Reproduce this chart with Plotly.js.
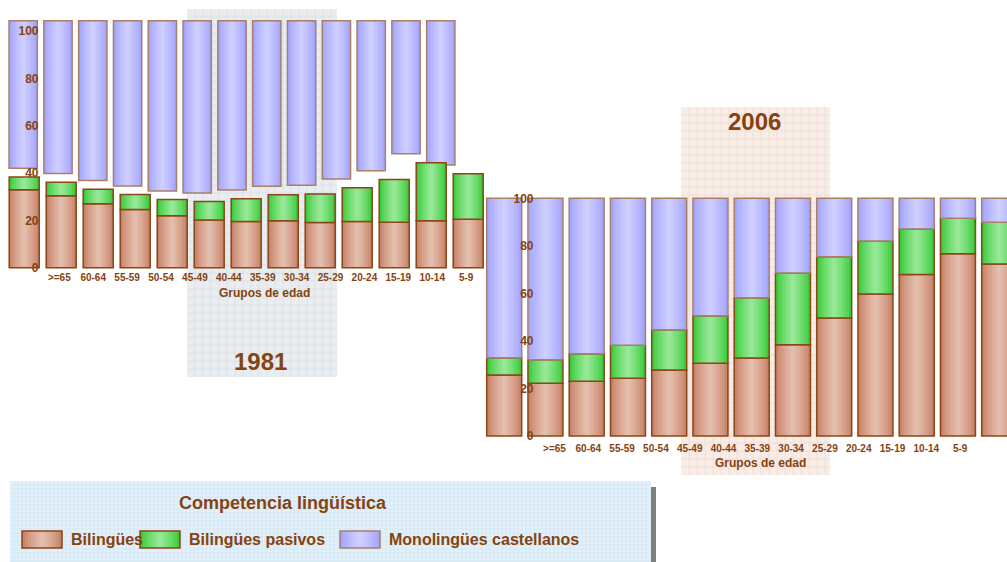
<!DOCTYPE html>
<html>
<head>
<meta charset="utf-8">
<script src="https://cdn.plot.ly/plotly-3.0.1.min.js"></script>
<style>html,body{margin:0;padding:0;background:#fff;}#chart{width:1007px;height:562px;}</style>
</head>
<body>
<div id="chart"></div>
<script>
// ---------- DATA ----------
const ageGroups = ['>=65','60-64','55-59','50-54','45-49','40-44','35-39','30-34','25-29','20-24','15-19','10-14','5-9'];
const yTicks = [0, 20, 40, 60, 80, 100];

const bilingues1981 = [33.0, 30.4, 27.0, 24.6, 22.0, 20.2, 19.5, 19.8, 19.1, 19.5, 19.2, 19.8, 20.5];
const pasivos1981   = [5.3, 5.7, 6.2, 6.3, 6.8, 7.8, 9.7, 11.0, 12.1, 14.3, 18.1, 24.6, 19.2];
const monolingues1981 = [61.7, 63.9, 66.8, 69.1, 71.2, 72.0, 70.8, 69.2, 68.8, 66.2, 62.7, 55.6, 60.3];

const bilingues2006 = [25.7, 22.2, 23.0, 24.3, 27.8, 30.6, 32.8, 38.4, 49.6, 59.7, 67.9, 76.7, 72.4];
const pasivos2006   = [7.2, 9.9, 11.6, 13.9, 16.9, 20.0, 25.4, 30.2, 25.8, 22.3, 19.2, 14.9, 17.5];
const monolingues2006 = [67.1, 67.9, 65.4, 61.8, 55.3, 49.4, 41.8, 31.4, 24.6, 18.0, 12.9, 8.4, 10.1];

const seriesNames = ['Bilingües', 'Bilingües pasivos', 'Monolingües castellanos'];
const legendTitle = 'Competencia lingüística';
const axisTitle = 'Grupos de edad';
const years = ['1981', '2006'];

// ---------- STYLE ----------
const W = 1007, H = 562;
const BROWN = '#86430f';
const FONT = 'Liberation Sans, Arial, sans-serif';
const palettes = {
  bil: {line: '#8a4614', edge: [200, 130, 104], center: [227, 190, 172]},
  pas: {line: '#8a4614', edge: [58, 203, 58], center: [150, 232, 150]},
  mon: {line: '#a88068', edge: [164, 164, 255], center: [206, 206, 255]}
};
const NL = 7;
const layerFrac = Array.from({length: NL}, (_, i) => 1 - i * (0.88 / (NL - 1)));
function shade(pal, li) {
  const t = Math.pow(li / (NL - 1), 0.8);
  const c = pal.edge.map((e, k) => Math.round(e + (pal.center[k] - e) * t));
  return 'rgb(' + c.join(',') + ')';
}

function xr(c0, s) { return [(0 - c0) / s, (W - c0) / s]; }
function yr(py0, k) { return [(py0 - H) / k, py0 / k]; }
function px(x) { return x / W; }
function py(y) { return 1 - y / H; }

const idx = ageGroups.map((_, i) => i);
const traces = [];
function addSeries(xa, ya, base, vals, width, pal) {
  layerFrac.forEach((f, li) => {
    traces.push({
      type: 'bar', x: idx, y: vals, base: base, width: width * f,
      xaxis: xa, yaxis: ya, showlegend: false, hoverinfo: 'skip',
      marker: {color: shade(pal, li), line: {width: 0}}
    });
  });
  traces.push({
    type: 'bar', x: idx, y: vals, base: base, width: width,
    xaxis: xa, yaxis: ya, showlegend: false, hoverinfo: 'skip',
    marker: {color: 'rgba(0,0,0,0)', line: {color: pal.line, width: 1.5}}
  });
}

const zeros = idx.map(() => 0);
// 1981 monolingual layer (floating, drawn first so axis labels of 1981 sit above it)
const base1981m = idx.map(i => bilingues1981[i] + pasivos1981[i]);
addSeries('x', 'y', base1981m, monolingues1981, 28.3 / 34.8, palettes.mon);
// 1981 bilingual layers
addSeries('x2', 'y2', zeros, bilingues1981, 30 / 37, palettes.bil);
addSeries('x2', 'y2', bilingues1981, pasivos1981, 30 / 37, palettes.pas);
// 2006
addSeries('x3', 'y3', zeros, bilingues2006, 35 / 41.25, palettes.bil);
addSeries('x3', 'y3', bilingues2006, pasivos2006, 35 / 41.25, palettes.pas);
const base2006m = idx.map(i => bilingues2006[i] + pasivos2006[i]);
addSeries('x3', 'y3', base2006m, monolingues2006, 35 / 41.25, palettes.mon);

// ---------- SHAPES ----------
const shapes = [];
function rect(x0, y0, x1, y1, fill, line, layer) {
  shapes.push({type: 'rect', xref: 'paper', yref: 'paper', layer: layer || 'below',
    x0: px(x0), x1: px(x1), y0: py(y1), y1: py(y0),
    fillcolor: fill, line: line || {width: 0}});
}
function grid(x0, y0, x1, y1, fill, lineCol, step) {
  rect(x0, y0, x1, y1, fill);
  for (let x = x0 + step; x < x1; x += step) {
    shapes.push({type: 'line', xref: 'paper', yref: 'paper', layer: 'below',
      x0: px(x), x1: px(x), y0: py(y1), y1: py(y0), line: {color: lineCol, width: 1}});
  }
  for (let y = y0 + step; y < y1; y += step) {
    shapes.push({type: 'line', xref: 'paper', yref: 'paper', layer: 'below',
      x0: px(x0), x1: px(x1), y0: py(y), y1: py(y), line: {color: lineCol, width: 1}});
  }
}
grid(187, 9, 337, 377, '#e9edf0', '#dbe2e7', 8);
grid(681, 107, 830, 475, '#f8ece7', '#f0ded6', 8);
// legend box
rect(651, 487, 656, 562, '#7f7f7f');
grid(10, 481, 651, 562, '#e2f1fb', '#d6e8f3', 4);
function swatch(x0, pal) {
  const y0 = 531, y1 = 548, w = 40;
  layerFrac.forEach((f, li) => {
    const c = x0 + w / 2, hw = w * f / 2;
    rect(c - hw, y0, c + hw, y1, shade(pal, li), null, 'above');
  });
  shapes.push({type: 'rect', xref: 'paper', yref: 'paper', layer: 'above',
    x0: px(x0), x1: px(x0 + w), y0: py(y1), y1: py(y0),
    fillcolor: 'rgba(0,0,0,0)', line: {color: pal.line, width: 1.5}});
}
swatch(22, palettes.bil);
swatch(140, palettes.pas);
swatch(340, palettes.mon);

// ---------- ANNOTATIONS ----------
const annotations = [];
function txt(t, x, y, size, anchor) {
  annotations.push({text: t, xref: 'paper', yref: 'paper', x: px(x), y: py(y),
    xanchor: anchor || 'center', yanchor: 'middle', showarrow: false,
    font: {family: FONT, size: size, color: BROWN, weight: 'bold'}});
}
txt(axisTitle, 264.7, 293.3, 12);
txt(axisTitle, 760, 463.3, 12);
txt(years[0], 260, 361.7, 24);
txt(years[1], 754, 121.7, 24);
txt(legendTitle, 283, 503, 18);
txt(seriesNames[0], 69, 539, 16, 'left');
txt(seriesNames[1], 187, 539, 16, 'left');
txt(seriesNames[2], 387, 539, 16, 'left');

// ---------- AXES ----------
const tickFont = {family: FONT, size: 10, color: BROWN, weight: 'bold'};
const yTickFont = {family: FONT, size: 12, color: BROWN, weight: 'bold'};
const common = {showgrid: false, zeroline: false, showline: false, ticks: '', fixedrange: true};

const layout = {
  width: W, height: H,
  margin: {l: 0, r: 0, t: 0, b: 0},
  paper_bgcolor: '#ffffff', plot_bgcolor: 'rgba(0,0,0,0)',
  barmode: 'overlay', showlegend: false,
  xaxis: Object.assign({}, common, {domain: [0, 1], range: xr(23.2, 34.8), visible: false, anchor: 'y'}),
  yaxis: Object.assign({}, common, {domain: [0, 1], range: yr(259.9, 2.392), visible: false, anchor: 'x'}),
  xaxis2: Object.assign({}, common, {domain: [0, 1], range: xr(24.2, 37), anchor: 'free', position: py(270),
    tickmode: 'array', tickvals: idx.map(i => (59.3 + 33.9 * i - 24.2) / 37), ticktext: ageGroups,
    tickfont: tickFont, tickangle: 0}),
  yaxis2: Object.assign({}, common, {domain: [0, 1], range: yr(267.7, 2.365), anchor: 'free', position: px(38.5),
    tickmode: 'array', tickvals: yTicks, tickfont: yTickFont}),
  xaxis3: Object.assign({}, common, {domain: [0, 1], range: xr(504.2, 41.25), anchor: 'free', position: py(441),
    tickmode: 'array', tickvals: idx.map(i => (554.5 + 33.8 * i - 504.2) / 41.25), ticktext: ageGroups,
    tickfont: tickFont, tickangle: 0}),
  yaxis3: Object.assign({}, common, {domain: [0, 1], range: yr(436, 2.377), anchor: 'free', position: px(533.5),
    tickmode: 'array', tickvals: yTicks, tickfont: yTickFont}),
  shapes: shapes,
  annotations: annotations
};

Plotly.newPlot('chart', traces, layout, {displayModeBar: false, staticPlot: true});
</script>
</body>
</html>
